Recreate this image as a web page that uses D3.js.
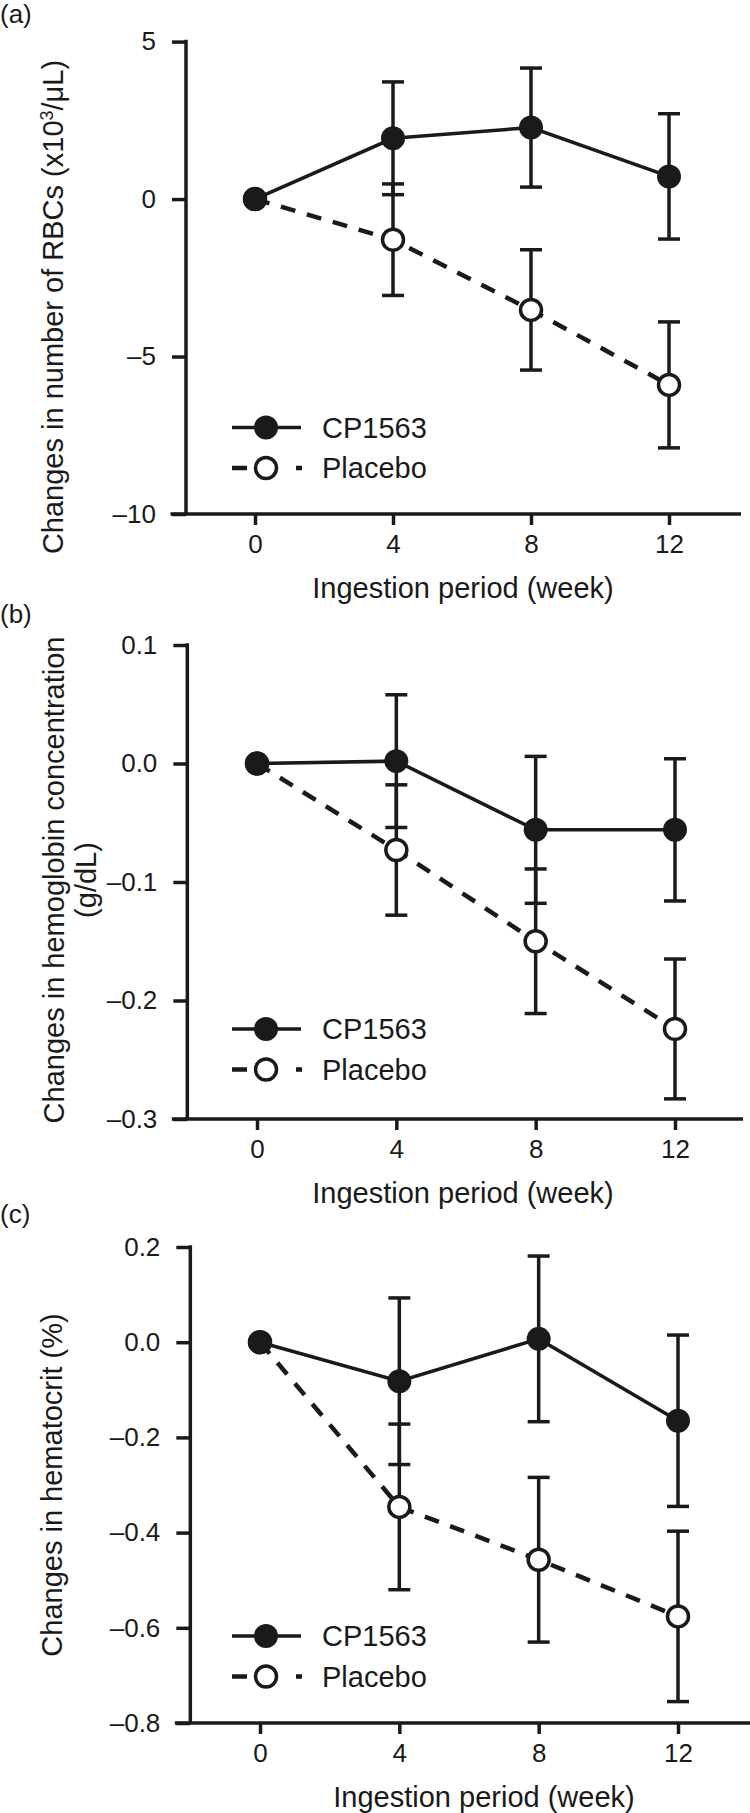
<!DOCTYPE html>
<html>
<head>
<meta charset="utf-8">
<script src="https://cdn.jsdelivr.net/npm/d3@7"></script>
<style>
  html, body { margin: 0; padding: 0; background: #fff; }
  svg { display: block; }
  text { font-family: "Liberation Sans", Arial, Helvetica, sans-serif; fill: #1a1a1a; }
</style>
</head>
<body>
<svg id="chart" width="750" height="1813"></svg>
<script>
// ---------- data ----------
const weeks = [0, 4, 8, 12];
const xTickValues = [0, 4, 8, 12];
const seriesNames = ["CP1563", "Placebo"];
const xTitle = "Ingestion period (week)";

// (a) RBC count change (x10^3/uL)
const rbcCP = [0, 1.93, 2.27, 0.72];
const rbcCPErr = [0, 1.79, 1.89, 1.99];
const rbcPlacebo = [0, -1.29, -3.52, -5.90];
const rbcPlaceboErr = [0, 1.77, 1.91, 2.00];
const rbcTicks = [5, 0, -5, -10];
const rbcTickLabels = ["5", "0", "\u20135", "\u201310"];

// (b) hemoglobin concentration change (g/dL)
const hbCP = [0, 0.002, -0.056, -0.056];
const hbCPErr = [0, 0.056, 0.062, 0.060];
const hbPlacebo = [0, -0.073, -0.150, -0.224];
const hbPlaceboErr = [0, 0.055, 0.061, 0.059];
const hbTicks = [0.1, 0.0, -0.1, -0.2, -0.3];
const hbTickLabels = ["0.1", "0.0", "\u20130.1", "\u20130.2", "\u20130.3"];

// (c) hematocrit change (%)
const hctCP = [0, -0.082, 0.007, -0.165];
const hctCPErr = [0, 0.175, 0.174, 0.180];
const hctPlacebo = [0, -0.346, -0.457, -0.576];
const hctPlaceboErr = [0, 0.174, 0.173, 0.179];
const hctTicks = [0.2, 0.0, -0.2, -0.4, -0.6, -0.8];
const hctTickLabels = ["0.2", "0.0", "\u20130.2", "\u20130.4", "\u20130.6", "\u20130.8"];

// ---------- drawing ----------
const svg = d3.select("#chart");
const INK = "#1a1a1a";

function drawPanel(p) {
  const g = svg.append("g");
  const x = d3.scaleLinear().domain([0, 12]).range([p.x0, p.x12]);
  const y = d3.scaleLinear().domain(p.yDomain).range([p.yBottom, p.yTop]);
  const axisX = x(-2);

  // panel letter
  g.append("text").attr("x", 0).attr("y", p.letterY)
    .attr("font-size", 26).text(p.letter);

  // y axis
  const yAxis = d3.axisLeft(y).tickValues(p.ticks)
    .tickFormat((d, i) => p.tickLabels[i]).tickSize(14).tickPadding(16);
  const ya = g.append("g").attr("transform", `translate(${axisX},0)`).call(yAxis);
  ya.select(".domain").remove();
  ya.append("line").attr("x1", 0).attr("x2", 0)
    .attr("y1", p.yTop - 1.75).attr("y2", p.yBottom);
  ya.selectAll("line").attr("stroke", INK).attr("stroke-width", 3.5);
  ya.selectAll("text").attr("font-size", 26).attr("fill", INK)
    .attr("font-family", '"Liberation Sans", Arial, sans-serif');

  // x axis
  const xAxis = d3.axisBottom(x).tickValues(xTickValues)
    .tickFormat(d3.format("d")).tickSize(11).tickPadding(10);
  const xa = g.append("g").attr("transform", `translate(0,${p.yBottom})`).call(xAxis);
  xa.select(".domain").remove();
  xa.append("line").attr("x1", axisX - 15.5).attr("x2", p.xEnd)
    .attr("y1", 0).attr("y2", 0);
  xa.selectAll("line").attr("stroke", INK).attr("stroke-width", 3.5);
  xa.selectAll("text").attr("font-size", 26).attr("fill", INK)
    .attr("font-family", '"Liberation Sans", Arial, sans-serif');

  // x title
  g.append("text").attr("x", p.xTitleX).attr("y", p.yBottom + 84)
    .attr("text-anchor", "middle").attr("font-size", 29).text(xTitle);

  // y title (possibly multi-line)
  p.yTitle.forEach((t, i) => {
    g.append("text")
      .attr("transform", `translate(${p.yTitleX[i]},${p.yTitleY}) rotate(-90)`)
      .attr("text-anchor", "middle").attr("font-size", 29)
      .html(t);
  });

  const series = [
    { vals: p.placebo, errs: p.placeboErr, filled: false },
    { vals: p.cp, errs: p.cpErr, filled: true }
  ];

  const line = d3.line().x((d, i) => x(weeks[i])).y(d => y(d));

  // lines
  series.forEach(s => {
    g.append("path").datum(s.vals).attr("d", line)
      .attr("fill", "none").attr("stroke", INK)
      .attr("stroke-width", s.filled ? 3.5 : 4.5)
      .attr("stroke-dasharray", s.filled ? null : "15,12");
  });

  // error bars
  series.forEach(s => {
    const eb = g.append("g");
    weeks.forEach((w, i) => {
      if (s.errs[i] === 0) return;
      const cx = x(w), hi = y(s.vals[i] + s.errs[i]), lo = y(s.vals[i] - s.errs[i]);
      eb.append("line").attr("x1", cx).attr("x2", cx).attr("y1", hi).attr("y2", lo);
      eb.append("line").attr("x1", cx - 11).attr("x2", cx + 11).attr("y1", hi).attr("y2", hi);
      eb.append("line").attr("x1", cx - 11).attr("x2", cx + 11).attr("y1", lo).attr("y2", lo);
    });
    eb.selectAll("line").attr("stroke", INK).attr("stroke-width", 3.5);
  });

  // markers
  series.forEach(s => {
    g.append("g").selectAll("circle").data(s.vals).join("circle")
      .attr("cx", (d, i) => x(weeks[i])).attr("cy", d => y(d))
      .attr("r", s.filled ? 12 : 10.5)
      .attr("fill", s.filled ? INK : "#fff")
      .attr("stroke", INK).attr("stroke-width", s.filled ? 0 : 3.5);
  });

  // legend
  const lg = g.append("g");
  const rows = [p.legendY, p.legendY + 40.5];
  // CP1563
  lg.append("line").attr("x1", 232).attr("x2", 301).attr("y1", rows[0]).attr("y2", rows[0])
    .attr("stroke", INK).attr("stroke-width", 3.5);
  lg.append("circle").attr("cx", 266).attr("cy", rows[0]).attr("r", 12).attr("fill", INK);
  lg.append("text").attr("x", 322).attr("y", rows[0] + 10).attr("font-size", 29).text(seriesNames[0]);
  // Placebo
  lg.append("line").attr("x1", 232).attr("x2", 302).attr("y1", rows[1]).attr("y2", rows[1])
    .attr("stroke", INK).attr("stroke-width", 4.5).attr("stroke-dasharray", "15,49,6");
  lg.append("circle").attr("cx", 266).attr("cy", rows[1]).attr("r", 10.5)
    .attr("fill", "#fff").attr("stroke", INK).attr("stroke-width", 3.5);
  lg.append("text").attr("x", 322).attr("y", rows[1] + 10).attr("font-size", 29).text(seriesNames[1]);
}

drawPanel({
  letter: "(a)", letterY: 23,
  yDomain: [-10, 5], yTop: 41.6, yBottom: 514,
  x0: 255, x12: 669, xEnd: 741, xTitleX: 463,
  ticks: rbcTicks, tickLabels: rbcTickLabels,
  yTitle: ["Changes in number of RBCs (x10<tspan dy='-10' font-size='18'>3</tspan><tspan dy='10'>/\u03bcL)</tspan>"],
  yTitleX: [63], yTitleY: 307,
  cp: rbcCP, cpErr: rbcCPErr, placebo: rbcPlacebo, placeboErr: rbcPlaceboErr,
  legendY: 427.5
});

drawPanel({
  letter: "(b)", letterY: 623,
  yDomain: [-0.3, 0.1], yTop: 645, yBottom: 1119,
  x0: 257, x12: 675, xEnd: 743, xTitleX: 463,
  ticks: hbTicks, tickLabels: hbTickLabels,
  yTitle: ["Changes in hemoglobin concentration", "(g/dL)"],
  yTitleX: [64, 96], yTitleY: 880,
  cp: hbCP, cpErr: hbCPErr, placebo: hbPlacebo, placeboErr: hbPlaceboErr,
  legendY: 1029
});

drawPanel({
  letter: "(c)", letterY: 1223,
  yDomain: [-0.8, 0.2], yTop: 1247, yBottom: 1723,
  x0: 260, x12: 678, xEnd: 750, xTitleX: 484,
  ticks: hctTicks, tickLabels: hctTickLabels,
  yTitle: ["Changes in hematocrit (%)"],
  yTitleX: [62], yTitleY: 1485,
  cp: hctCP, cpErr: hctCPErr, placebo: hctPlacebo, placeboErr: hctPlaceboErr,
  legendY: 1636
});
</script>
</body>
</html>
